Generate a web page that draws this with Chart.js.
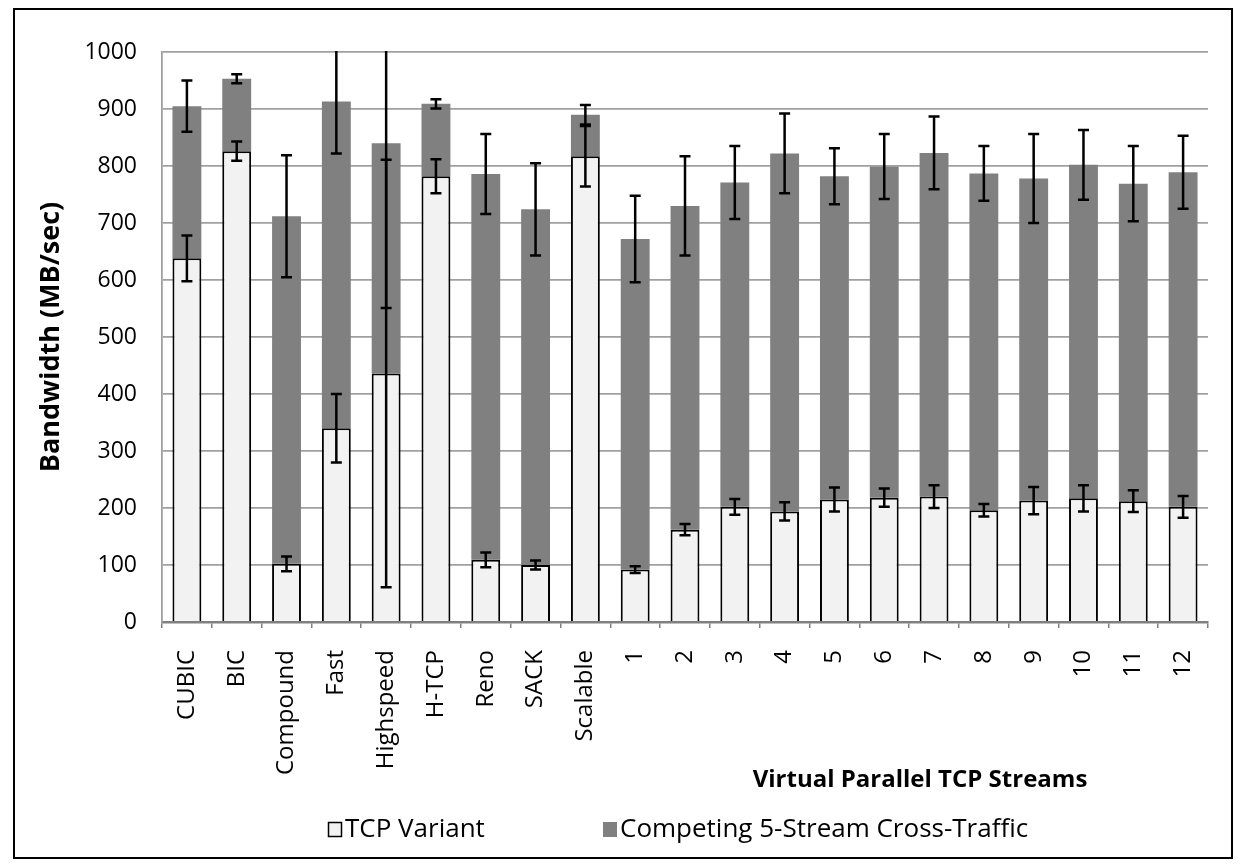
<!DOCTYPE html>
<html>
<head>
<meta charset="utf-8">
<script src="https://cdn.jsdelivr.net/npm/chart.js@4.4.1/dist/chart.umd.min.js"></script>
<style>
  html, body { margin: 0; padding: 0; background: #fff; }
  #wrap { position: relative; width: 1249px; height: 867px; }
  #frame { position: absolute; left: 13px; top: 8px; width: 1220px; height: 851px; border: 2px solid #000; box-sizing: border-box; pointer-events: none; }
  #bwChart { position: absolute; left: 0; top: 0; }
</style>
</head>
<body>
<div id="wrap">
  <canvas id="bwChart" width="1249" height="867"></canvas>
  <div id="frame"></div>
</div>
<script>
const categories = ['CUBIC', 'BIC', 'Compound', 'Fast', 'Highspeed', 'H-TCP', 'Reno', 'SACK', 'Scalable',
    '1', '2', '3', '4', '5', '6', '7', '8', '9', '10', '11', '12'];

// TCP variant throughput (light bars) and its error
const variantMean = [638, 826, 102, 340, 436, 782, 109, 100, 817, 92, 162, 202, 194, 215, 218, 220, 196, 213, 217, 212, 202];
const variantErr  = [40, 17, 13, 60, 375, 30, 13, 8, 53, 6, 10, 14, 16, 21, 16, 20, 11, 24, 23, 19, 19];

// top of the stack (variant + cross-traffic) and its error
const totalMean = [905, 953, 712, 913, 840, 909, 786, 724, 890, 672, 730, 771, 822, 782, 799, 823, 787, 778, 802, 769, 789];
const totalErr  = [45, 8, 107, 91, 289, 8, 70, 81, 17, 76, 87, 64, 70, 49, 57, 64, 48, 78, 61, 66, 64];

const yTickValues = [0, 100, 200, 300, 400, 500, 600, 700, 800, 900, 1000];

const seriesNames = ['TCP Variant', 'Competing 5-Stream Cross-Traffic'];
const xGroupTitle = 'Virtual Parallel TCP Streams';
const yTitle = 'Bandwidth (MB/sec)';

const crossTraffic = totalMean.map((t, i) => t - variantMean[i]);

const FONT = "'Open Sans', sans-serif";
Chart.defaults.font.family = FONT;
Chart.defaults.color = '#000';

const errorBars = {
    id: 'errorBars',
    afterDatasetsDraw(chart) {
        const { ctx, chartArea, scales: { x, y } } = chart;
        ctx.save();
        ctx.beginPath();
        ctx.rect(chartArea.left, chartArea.top - 1, chartArea.width, chartArea.height + 1);
        ctx.clip();
        ctx.strokeStyle = '#000';
        ctx.lineWidth = 2.5;
        const draw = (cx, m, e) => {
            const top = y.getPixelForValue(m + e);
            const bot = y.getPixelForValue(m - e);
            ctx.beginPath();
            ctx.moveTo(cx, top); ctx.lineTo(cx, bot);
            ctx.moveTo(cx - 5.5, top); ctx.lineTo(cx + 5.5, top);
            ctx.moveTo(cx - 5.5, bot); ctx.lineTo(cx + 5.5, bot);
            ctx.stroke();
        };
        categories.forEach((c, i) => {
            const cx = x.getPixelForValue(i);
            draw(cx, variantMean[i], variantErr[i]);
            draw(cx, totalMean[i], totalErr[i]);
        });
        ctx.restore();
    }
};

const extraText = {
    id: 'extraText',
    afterDraw(chart) {
        const { ctx } = chart;
        ctx.save();
        // group title under the numeric categories
        ctx.font = `bold 24px ${FONT}`;
        ctx.fillStyle = '#000';
        ctx.textAlign = 'center';
        ctx.textBaseline = 'middle';
        ctx.fillText(xGroupTitle, 920, 780);

        // legend
        ctx.font = `26px ${FONT}`;
        ctx.textAlign = 'left';
        const items = [
            { x: 328, fill: chart.data.datasets[0].backgroundColor, stroke: true },
            { x: 603, fill: chart.data.datasets[1].backgroundColor, stroke: false }
        ];
        items.forEach((it, i) => {
            ctx.fillStyle = it.fill;
            ctx.fillRect(it.x, 822, 14, 15);
            if (it.stroke) {
                ctx.strokeStyle = '#000';
                ctx.lineWidth = 1.5;
                ctx.strokeRect(it.x + 0.5, 822.5, 13, 14);
            }
            ctx.fillStyle = '#000';
            ctx.fillText(seriesNames[i], it.x + 17, 830);
        });
        ctx.restore();
    }
};

new Chart(document.getElementById('bwChart'), {
    type: 'bar',
    data: {
        labels: categories,
        datasets: [
            {
                label: seriesNames[0],
                data: variantMean,
                backgroundColor: '#F2F2F2',
                borderColor: '#000',
                borderWidth: { top: 2, left: 2, right: 2, bottom: 0 },
                borderSkipped: false
            },
            {
                label: seriesNames[1],
                data: crossTraffic,
                backgroundColor: '#808080',
                borderWidth: 0
            }
        ]
    },
    options: {
        responsive: false,
        animation: false,
        barPercentage: 0.58,
        categoryPercentage: 1,
        layout: { padding: { left: 20, right: 41, top: 52, bottom: 0 } },
        plugins: {
            legend: { display: false },
            tooltip: { enabled: false }
        },
        scales: {
            x: {
                stacked: true,
                afterFit: axis => { axis.height = 245; },
                grid: {
                    display: true,
                    drawOnChartArea: false,
                    drawTicks: true,
                    tickLength: 6,
                    color: '#808080',
                    lineWidth: 1.5
                },
                border: { display: true, color: '#808080', width: 2.5 },
                ticks: {
                    minRotation: 90,
                    maxRotation: 90,
                    autoSkip: false,
                    padding: 22,
                    font: { size: 24 },
                    color: '#000'
                }
            },
            y: {
                stacked: true,
                min: 0,
                max: 1000,
                afterFit: axis => { axis.width = 142; },
                afterBuildTicks: axis => { axis.ticks = yTickValues.map(v => ({ value: v })); },
                grid: { color: '#A0A0A0', lineWidth: 1.8, drawTicks: false },
                border: { display: true, color: '#A0A0A0', width: 1.8 },
                ticks: {
                    padding: 25,
                    font: { size: 23 },
                    color: '#000',
                    callback: v => String(v)
                },
                title: {
                    display: true,
                    text: yTitle,
                    font: { size: 27, weight: 'bold' },
                    color: '#000',
                    padding: { top: 15, bottom: 0 }
                }
            }
        }
    },
    plugins: [errorBars, extraText]
});
</script>
</body>
</html>
